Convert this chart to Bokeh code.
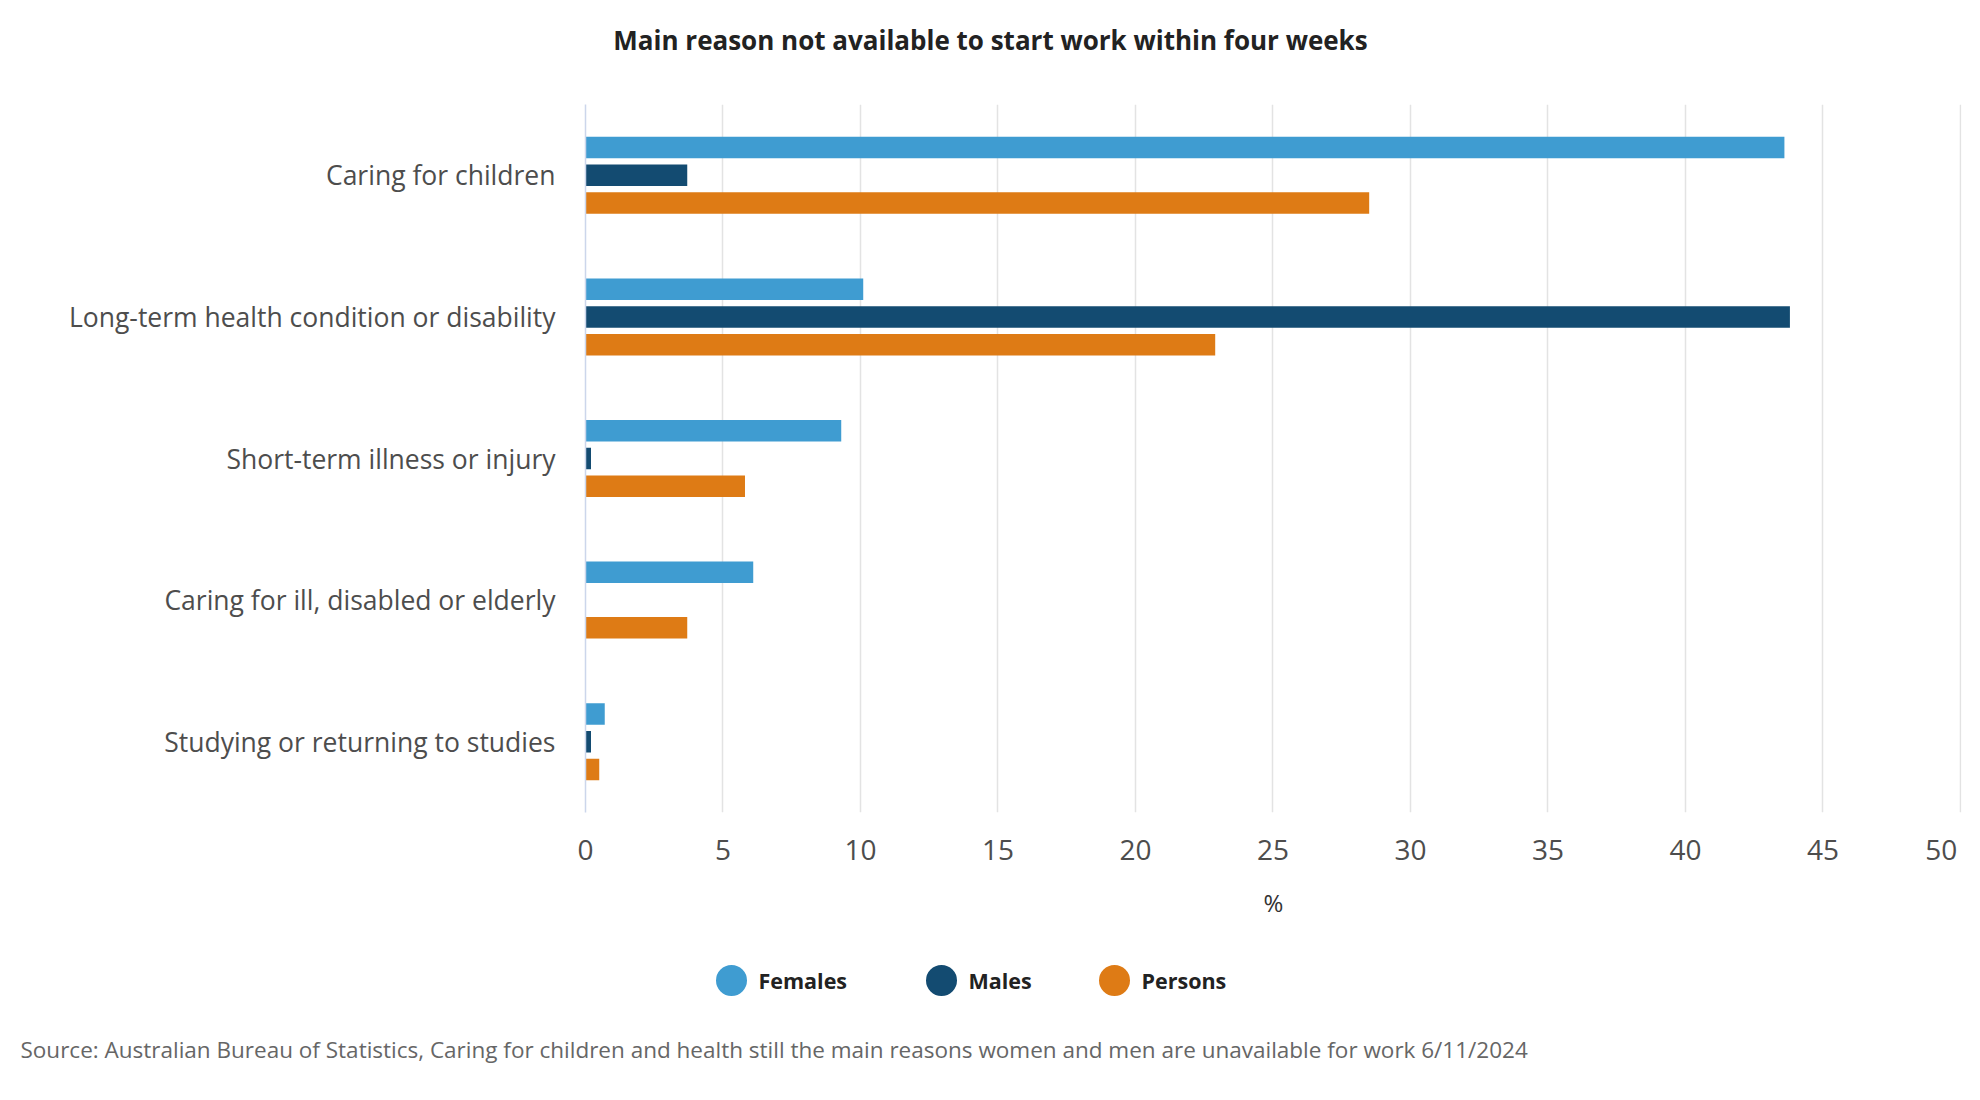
from bokeh.plotting import figure
from bokeh.models import ColumnDataSource, FactorRange, Range1d, FixedTicker, Title
from bokeh.transform import dodge
from bokeh.layouts import column
from bokeh.core.properties import value
from bokeh.embed import file_html
from bokeh.resources import INLINE

# ---------------- data ----------------
categories = [
    "Caring for children",
    "Long-term health condition or disability",
    "Short-term illness or injury",
    "Caring for ill, disabled or elderly",
    "Studying or returning to studies",
]
females = [43.6, 10.1, 9.3, 6.1, 0.7]
males = [3.7, 43.8, 0.2, 0.0, 0.2]
persons = [28.5, 22.9, 5.8, 3.7, 0.5]
series_names = ["Females", "Males", "Persons"]
x_ticks = [0, 5, 10, 15, 20, 25, 30, 35, 40, 45, 50]
title_text = "Main reason not available to start work within four weeks"
x_label = "%"
source_text = ("Source: Australian Bureau of Statistics, Caring for children and health still "
               "the main reasons women and men are unavailable for work 6/11/2024")

# ---------------- style / layout ----------------
FONT = "Open Sans"
COLORS = ["#3f9cd1", "#134b71", "#de7b15"]
TEXT_GREY = "#4d4d4d"
W = 1964
BL = 585
FW, FH = 1376, 708
BR = W - BL - FW
H0 = 70            # title strip
BT = 104 - H0
H1 = 925 - H0
BB = H1 - BT - FH
H2 = 159
FH2 = 100
BB2 = H2 - FH2

# ---------------- title strip ----------------
p0 = figure(width=W, height=H0, x_range=Range1d(BL, BL + FW), y_range=Range1d(0, H0),
            x_axis_type=None, y_axis_type=None, output_backend="svg", toolbar_location=None,
            min_border_left=BL, min_border_right=BR, min_border_top=0, min_border_bottom=0)
p0.outline_line_color = None
p0.xgrid.grid_line_color = None
p0.ygrid.grid_line_color = None
p0.text(x=[990], y=[H0 - 39], text=[title_text], text_font=value(FONT),
        text_font_size="26px", text_font_style="bold", text_color="#222222",
        text_align="center", text_baseline="middle")

# ---------------- main chart ----------------
src = ColumnDataSource(dict(cat=categories, females=females, males=males, persons=persons))

p = figure(width=W, height=H1,
           y_range=FactorRange(factors=list(reversed(categories))),
           x_range=Range1d(x_ticks[0], x_ticks[-1] + 0.04),
           output_backend="svg", toolbar_location=None,
           min_border_left=BL, min_border_right=BR, min_border_top=BT, min_border_bottom=BB)
p.outline_line_color = None

offset = 0.196
bar_h = 0.152
for col, off, color in zip(["females", "males", "persons"], [offset, 0.0, -offset], COLORS):
    p.hbar(y=dodge("cat", off, range=p.y_range), left=0, right=col, height=bar_h,
           source=src, fill_color=color, line_color=None)

# ---- x axis ----
p.xaxis.ticker = FixedTicker(ticks=x_ticks)
p.xaxis.axis_line_color = None
p.xaxis.major_tick_line_color = None
p.xaxis.minor_tick_line_color = None
p.xaxis.major_label_text_font = FONT
p.xaxis.major_label_text_font_size = "28px"
p.xaxis.major_label_text_color = TEXT_GREY
p.xaxis.major_label_standoff = 11
# last label kept inside the chart: padded on the right so it ends near its gridline
p.xaxis.major_label_overrides = {x_ticks[-1]: str(x_ticks[-1]) + "\u00a0"}
p.xaxis.axis_label = x_label
p.xaxis.axis_label_text_font = FONT
p.xaxis.axis_label_text_font_size = "24px"
p.xaxis.axis_label_text_font_style = "normal"
p.xaxis.axis_label_text_color = "#333333"
p.xaxis.axis_label_standoff = 15

p.xgrid.ticker = FixedTicker(ticks=x_ticks)
p.xgrid.grid_line_color = "#e3e3e3"
p.xgrid.grid_line_width = 1.5
p.ygrid.grid_line_color = None

# ---- y axis ----
p.yaxis.axis_line_color = "#ccd6eb"
p.yaxis.axis_line_width = 1.5
p.yaxis.major_tick_line_color = None
p.yaxis.minor_tick_line_color = None
p.yaxis.major_label_text_font = FONT
p.yaxis.major_label_text_font_size = "26.5px"
p.yaxis.major_label_text_color = TEXT_GREY
p.yaxis.major_label_standoff = 24

# ---------------- bottom: legend + source ----------------
p2 = figure(width=W, height=H2, x_range=Range1d(BL, BL + FW), y_range=Range1d(0, FH2),
            x_axis_type=None, y_axis_type=None, output_backend="svg", toolbar_location=None,
            min_border_left=BL, min_border_right=BR, min_border_top=0, min_border_bottom=BB2)
p2.outline_line_color = None
p2.xgrid.grid_line_color = None
p2.ygrid.grid_line_color = None

leg_cx = [731, 941, 1114]
leg_y = 45
for cx, name, color in zip(leg_cx, series_names, COLORS):
    p2.scatter(x=[cx], y=[leg_y], size=31, marker="circle", fill_color=color, line_color=None)
    p2.text(x=[cx + 27], y=[leg_y], text=[name], text_font=value(FONT),
            text_font_size="21.5px", text_font_style="bold", text_color="#222222",
            text_baseline="middle", text_align="left")

p2.add_layout(Title(text=source_text, align="left", offset=20 - BL, standoff=13,
                    text_font=FONT, text_font_size="22.5px", text_font_style="normal",
                    text_color="#666666"), "below")

layout = column(p0, p, p2, spacing=0)
open("out.html", "w").write(file_html(layout, INLINE))
